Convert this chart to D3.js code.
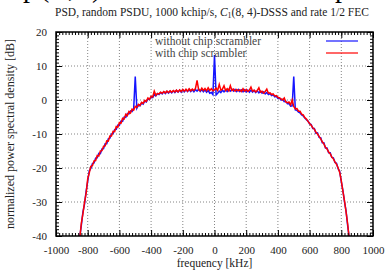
<!DOCTYPE html>
<html>
<meta charset="utf-8">
<script src="https://d3js.org/d3.v7.min.js"></script>
<style>
  body { margin: 0; background: #fff; overflow: hidden; }
  text { font-family: "Liberation Serif", serif; }
</style>
<body>
<div id="my_dataviz"></div>
<script>
// frequency grid of the PSD estimate [kHz]
let freq = [
  -850,-840,-830,-820,-810,-800,-790,-780,-770,-760,-750,-740,-730,-720,-710,-700,-690,-680,-670,-660,
  -650,-640,-630,-620,-610,-600,-590,-580,-570,-560,-550,-540,-530,-520,-510,-500,-490,-480,-470,-460,
  -450,-440,-430,-420,-410,-400,-390,-380,-370,-360,-350,-340,-330,-320,-310,-300,-290,-280,-270,-260,
  -250,-240,-230,-220,-210,-200,-190,-180,-170,-160,-150,-140,-130,-120,-110,-100,-90,-80,-70,-60,
  -50,-40,-30,-20,-10,0,10,20,30,40,50,60,70,80,90,100,110,120,130,140,
  150,160,170,180,190,200,210,220,230,240,250,260,270,280,290,300,310,320,330,340,
  350,360,370,380,390,400,410,420,430,440,450,460,470,480,490,500,510,520,530,540,
  550,560,570,580,590,600,610,620,630,640,650,660,670,680,690,700,710,720,730,740,
  750,760,770,780,790,800,810,820,830,840,850
]

// without chip scrambler [dB]
let psdPlain = [
  -40.3,-36.8,-32.9,-30.6,-26.9,-23.9,-20.8,-20.1,-18.7,-18.5,-17.1,-17.0,-15.7,-15.8,-14.4,-14.3,-12.9,-12.9,-11.4,-11.2,
  -10.0,-9.9,-8.7,-8.6,-7.4,-7.5,-6.2,-6.3,-5.0,-5.1,-4.0,-4.1,-3.2,-3.4,-2.6,6.9,-2.4,-1.5,-1.7,-0.9,
  -1.2,-0.3,-0.6,0.3,0.1,0.9,0.7,1.6,1.2,1.9,1.6,2.2,1.8,2.4,1.9,2.5,2.0,2.6,2.1,2.7,
  2.2,2.8,2.3,2.9,2.3,3.0,2.4,3.0,2.5,3.1,2.5,3.0,2.4,3.1,2.6,3.2,2.5,3.1,2.4,3.0,
  2.3,2.8,2.0,2.2,1.6,13.2,1.5,2.0,2.6,2.2,2.9,2.4,3.0,2.5,3.1,2.6,3.2,2.6,3.1,2.5,
  3.1,2.5,3.0,2.4,3.0,2.4,2.9,2.3,2.9,2.3,2.8,2.2,2.7,2.1,2.6,2.0,2.4,1.8,2.2,1.6,
  1.9,1.3,1.5,0.9,1.1,0.5,0.6,0.0,0.2,-0.5,-0.4,-1.1,-1.0,-1.8,-1.7,6.9,-2.9,-3.0,-3.6,-3.8,
  -4.4,-4.7,-5.3,-5.8,-6.2,-7.0,-7.2,-8.4,-8.4,-9.8,-9.7,-11.0,-11.1,-12.6,-12.6,-14.1,-14.1,-15.5,-15.5,-16.9,
  -17.0,-18.4,-18.6,-20.2,-21.0,-24.0,-26.6,-29.9,-32.6,-36.9,-40.5
]

// with chip scrambler [dB]
let psdScrambled = [
  -40.6,-36.2,-33.4,-30.1,-27.5,-23.2,-21.4,-19.5,-19.3,-17.9,-17.8,-16.3,-16.5,-15.0,-14.9,-13.6,-13.5,-12.0,-12.1,-10.6,
  -10.6,-9.2,-9.3,-7.8,-8.0,-6.6,-6.8,-5.4,-5.6,-4.2,-4.6,-3.4,-3.8,-2.7,-3.0,-1.9,-2.2,-1.3,-1.6,-0.7,
  -1.0,-0.1,-0.4,0.6,0.2,1.1,0.9,2.6,1.4,1.9,1.8,2.3,2.0,2.5,2.1,2.6,2.2,2.7,2.3,2.8,
  2.4,2.9,2.4,3.0,2.5,3.1,2.6,3.2,2.6,3.3,2.7,3.2,2.8,3.4,5.8,3.0,2.7,3.5,2.8,3.4,
  2.7,3.6,2.8,3.3,2.7,3.0,3.5,2.8,4.6,2.9,3.2,4.2,2.8,3.3,2.7,4.2,2.8,3.2,2.6,3.1,
  2.7,3.0,2.5,3.3,2.6,3.1,2.5,2.9,3.8,2.6,2.9,2.4,2.8,3.6,2.3,2.6,2.0,2.5,3.2,2.0,
  2.1,1.6,1.8,1.2,1.3,0.8,0.6,0.3,0.0,0.6,-0.6,-0.8,-0.6,-1.4,0.0,-1.9,-2.6,-2.5,-3.3,-3.3,
  -4.2,-4.4,-5.2,-5.6,-6.3,-6.9,-7.4,-8.2,-8.6,-9.5,-10.0,-10.7,-11.4,-12.3,-12.9,-13.9,-14.4,-15.3,-15.8,-16.8,
  -17.3,-18.2,-18.9,-20.0,-21.3,-23.8,-26.8,-29.6,-32.9,-36.4,-40.8
]

let seriesNames = ["without chip scrambler", "with chip scrambler"]
let seriesColors = ["#1515ff", "#ff0000"]
let xTicks = [-1000, -800, -600, -400, -200, 0, 200, 400, 600, 800, 1000]
let yTicks = [-40, -30, -20, -10, 0, 10, 20]

let width = 386,
    height = 273,
    margin = {top: 32, right: 13, bottom: 37, left: 56}
let w = width - margin.left - margin.right,
    h = height - margin.top - margin.bottom

let svg = d3.select("#my_dataviz")
  .append("svg")
    .attr("width", width)
    .attr("height", height)

let g = svg.append("g")
    .attr("transform", "translate(" + margin.left + "," + margin.top + ")")

let x = d3.scaleLinear().domain([-1000, 1000]).range([0, w])
let y = d3.scaleLinear().domain([-40, 20]).range([h, 0])

// bottom edge of the page heading above the figure (cut off)
let cut = svg.append("g").attr("font-size", "28px").attr("fill", "#000")
cut.append("text").attr("x", 23).attr("y", -3).text("p")
cut.append("text").attr("x", 40).attr("y", -3).text("(")
cut.append("text").attr("x", 68).attr("y", -3).text(",")
cut.append("text").attr("x", 92).attr("y", -3).text(")")
cut.append("text").attr("x", 335).attr("y", -3).text("p")

// title
let title = svg.append("text")
  .attr("x", 212)
  .attr("y", 16)
  .attr("text-anchor", "middle")
  .attr("font-size", "11.5px")
  .attr("fill", "#222")
title.append("tspan").text("PSD, random PSDU, 1000 kchip/s, ")
title.append("tspan").attr("font-style", "italic").text("C")
title.append("tspan").attr("font-size", "8px").attr("dy", 2).text("1")
title.append("tspan").attr("dy", -2).text("(8, 4)-DSSS and rate 1/2 FEC")

// grid
g.append("g").selectAll("line")
  .data(xTicks.slice(1, -1))
  .enter().append("line")
    .attr("x1", d => x(d)).attr("x2", d => x(d))
    .attr("y1", 0).attr("y2", h)
    .attr("stroke", "#666").attr("stroke-width", 0.8)
    .attr("stroke-dasharray", "1,2")
g.append("g").selectAll("line")
  .data(yTicks.slice(1, -1))
  .enter().append("line")
    .attr("x1", 0).attr("x2", w)
    .attr("y1", d => y(d)).attr("y2", d => y(d))
    .attr("stroke", "#666").attr("stroke-width", 0.8)
    .attr("stroke-dasharray", "1,2")

// curves
svg.append("clipPath").attr("id", "clip")
  .append("rect").attr("width", w).attr("height", h)

let line = d3.line()
  .x((d, i) => x(freq[i]))
  .y(d => y(d))

let plot = g.append("g").attr("clip-path", "url(#clip)")
plot.append("path")
  .datum(psdPlain)
  .attr("d", line)
  .attr("fill", "none")
  .attr("stroke", seriesColors[0])
  .attr("stroke-width", 1.5)
plot.append("path")
  .datum(psdScrambled)
  .attr("d", line)
  .attr("fill", "none")
  .attr("stroke", seriesColors[1])
  .attr("stroke-width", 1.5)

// axes with inward ticks on all four sides
function styleAxis(sel) {
  sel.select(".domain").remove()
  sel.selectAll("line").attr("stroke", "#000")
  sel.selectAll("text").attr("font-size", "11px").attr("fill", "#222")
}
let minorX = d3.range(-1000, 1001, 20)
let minorY = d3.range(-40, 21, 1)

g.append("g").attr("transform", "translate(0," + h + ")")
  .call(d3.axisBottom(x).tickValues(xTicks).tickSize(-6).tickPadding(10).tickFormat(d => d))
  .call(styleAxis)
g.append("g").attr("transform", "translate(0," + h + ")")
  .call(d3.axisBottom(x).tickValues(minorX).tickSize(-3).tickFormat(""))
  .call(styleAxis)
g.append("g")
  .call(d3.axisTop(x).tickValues(xTicks).tickSize(-6).tickFormat(""))
  .call(styleAxis)
g.append("g")
  .call(d3.axisTop(x).tickValues(minorX).tickSize(-3).tickFormat(""))
  .call(styleAxis)
g.append("g")
  .call(d3.axisLeft(y).tickValues(yTicks).tickSize(-6).tickPadding(9).tickFormat(d => d))
  .call(styleAxis)
g.append("g")
  .call(d3.axisLeft(y).tickValues(minorY).tickSize(-3).tickFormat(""))
  .call(styleAxis)
g.append("g").attr("transform", "translate(" + w + ",0)")
  .call(d3.axisRight(y).tickValues(yTicks).tickSize(-6).tickFormat(""))
  .call(styleAxis)
g.append("g").attr("transform", "translate(" + w + ",0)")
  .call(d3.axisRight(y).tickValues(minorY).tickSize(-3).tickFormat(""))
  .call(styleAxis)

g.append("rect")
  .attr("width", w).attr("height", h)
  .attr("fill", "none").attr("stroke", "#000").attr("stroke-width", 1.5)

// legend
let legend = g.append("g").selectAll("g")
  .data(seriesNames)
  .enter().append("g")
    .attr("transform", (d, i) => "translate(0," + (9 + i * 12) + ")")
legend.append("text")
  .attr("x", 99).attr("y", 4)
  .attr("font-size", "11.5px").attr("fill", "#444")
  .text(d => d)
legend.append("line")
  .attr("x1", 270).attr("x2", 302)
  .attr("stroke", (d, i) => seriesColors[i]).attr("stroke-width", 1.2)

// axis labels
svg.append("text")
  .attr("x", margin.left + w / 2).attr("y", 267)
  .attr("text-anchor", "middle").attr("font-size", "11.5px").attr("fill", "#222")
  .text("frequency [kHz]")
svg.append("text")
  .attr("transform", "translate(14," + (margin.top + h / 2) + ") rotate(-90)")
  .attr("text-anchor", "middle").attr("font-size", "12px").attr("fill", "#222")
  .text("normalized power spectral density [dB]")
</script>
</body>
</html>
